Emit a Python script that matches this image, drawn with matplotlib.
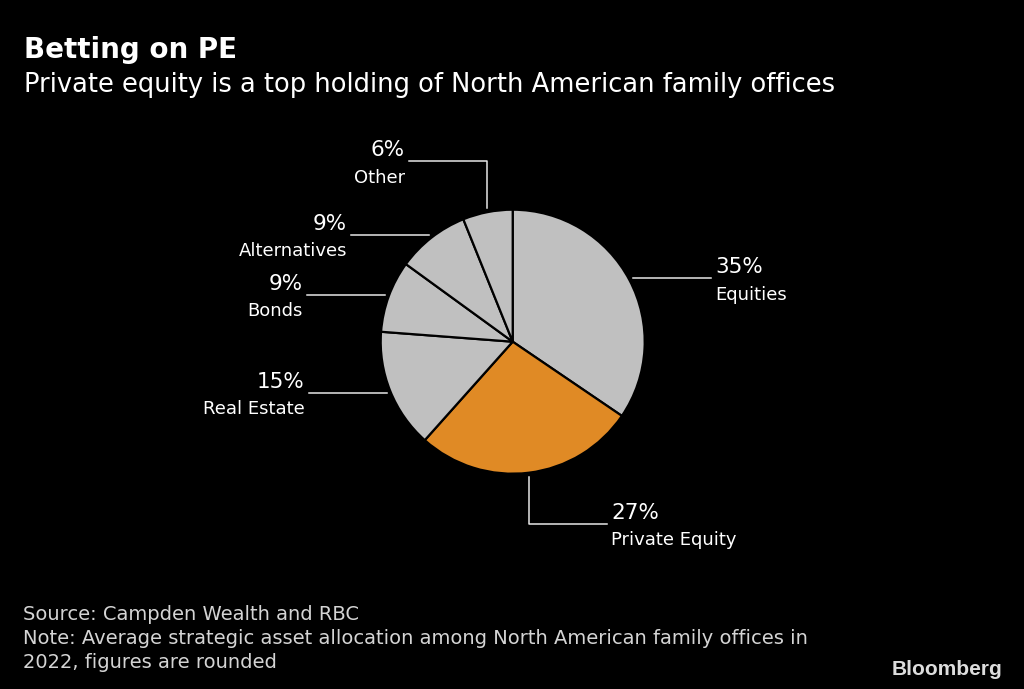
import numpy as np
import matplotlib
matplotlib.use("Agg")
import matplotlib.pyplot as plt

# data (shares, labels as printed)
categories = ["Equities", "Private Equity", "Real Estate", "Bonds", "Alternatives", "Other"]
shares = [34.5, 27.1, 14.6, 8.8, 8.9, 6.1]
pct_labels = ["35%", "27%", "15%", "9%", "9%", "6%"]

W, H = 1024, 689
GRAY = "#c0c0c0"
ORANGE = "#e08a25"
colors = [GRAY, ORANGE, GRAY, GRAY, GRAY, GRAY]

fig = plt.figure(figsize=(W / 100, H / 100), dpi=100, facecolor="black")
ax = fig.add_axes([0, 0, 1, 1])
ax.set_facecolor("black")

cx, cy, r = 512.7, H - 341.7, 132
wedges, _ = ax.pie(shares, colors=colors, startangle=90, counterclock=False,
                   center=(cx, cy), radius=r,
                   wedgeprops=dict(edgecolor="black", linewidth=1.6))
ax.set_xlim(0, W)
ax.set_ylim(0, H)
ax.set_aspect("equal")
ax.axis("off")

# how each leader line leaves the pie
style = {
    "Equities": "right",
    "Private Equity": "down",
    "Real Estate": "left",
    "Bonds": "left",
    "Alternatives": "left",
    "Other": "up",
}
LINE = "#e6e6e6"
seg = 78
for w, cat, lab in zip(wedges, categories, pct_labels):
    mid = np.deg2rad((w.theta1 + w.theta2) / 2)
    x0 = cx + (r + 4) * np.cos(mid)
    y0 = cy + (r + 4) * np.sin(mid)
    s = style[cat]
    if s == "right":
        ly, lx = y0, x0 + seg
        ax.plot([x0, lx], [ly, ly], color=LINE, lw=1.1)
        tx, ha = lx + 4, "left"
    elif s == "left":
        ly, lx = y0, x0 - seg
        ax.plot([x0, lx], [ly, ly], color=LINE, lw=1.1)
        tx, ha = lx - 4, "right"
    elif s == "down":
        ly = y0 - 47
        lx = x0 + seg
        ax.plot([x0, x0, lx], [y0, ly, ly], color=LINE, lw=1.1)
        tx, ha = lx + 4, "left"
    else:
        ly = y0 + 47
        lx = x0 - seg
        ax.plot([x0, x0, lx], [y0, ly, ly], color=LINE, lw=1.1)
        tx, ha = lx - 4, "right"
    ax.text(tx, ly + 5, lab, color="white", fontsize=15.5, ha=ha, va="baseline")
    ax.text(tx, ly - 21.5, cat, color="white", fontsize=13, ha=ha, va="baseline")

# titles
fig.text(24 / W, 1 - 57.5 / H, "Betting on PE", color="white", fontsize=20,
         fontweight="bold", va="baseline")
fig.text(24 / W, 1 - 91.5 / H,
         "Private equity is a top holding of North American family offices",
         color="white", fontsize=18.5, va="baseline")

# footer
foot = ["Source: Campden Wealth and RBC",
        "Note: Average strategic asset allocation among North American family offices in",
        "2022, figures are rounded"]
for i, t in enumerate(foot):
    fig.text(23 / W, 1 - (620 + 24 * i) / H, t, color="#d4d4d4", fontsize=14,
             va="baseline")
fig.text(1002 / W, 1 - 675 / H, "Bloomberg", color="#dddddd", fontsize=15,
         fontweight="bold", family="Liberation Sans", ha="right", va="baseline")

fig.savefig("out.png", dpi=100, facecolor="black")
